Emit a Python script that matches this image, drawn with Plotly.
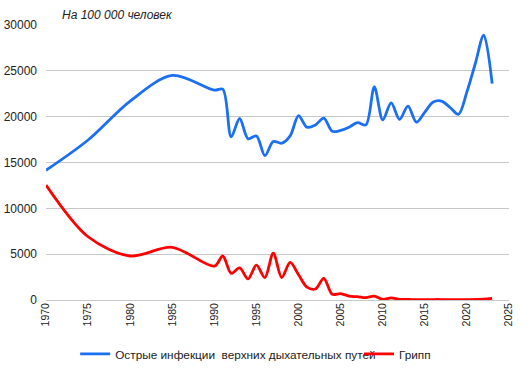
import plotly.graph_objects as go

years = [1970, 1975, 1980, 1985, 1990] + list(range(1991, 2024))

ari = [14150, 17450, 21700, 24500, 22900,
       23000, 17800, 19800, 17600, 17900, 15750, 17300, 17100, 17900, 20100,
       18850, 19100, 19850, 18400, 18500, 18850, 19350, 19100, 23250, 19650,
       21500, 19700, 21150, 19400, 20500, 21600, 21700, 21000, 20250, 22700,
       25800, 28900, 23600]

flu = [12550, 6900, 4800, 5750, 3700,
       4800, 2900, 3500, 2300, 3800, 2450, 5100, 2450, 4100, 2750,
       1400, 1200, 2370, 620, 700, 420, 360, 260, 430, 60,
       230, 60, 70, 30, 30, 50, 50, 30, 30, 40,
       60, 90, 180]

names = ["Острые инфекции\u00a0 верхних дыхательных путей", "Грипп"]
colors = ["#1a6ff2", "#ff0000"]
legends = ["legend", "legend2"]

FONT = "Liberation Sans, Arial, sans-serif"

fig = go.Figure()
for vals, nm, c, lg in zip([ari, flu], names, colors, legends):
    fig.add_trace(go.Scatter(x=years, y=vals, name=nm, mode="lines", legend=lg,
                             line=dict(color=c, width=2.8, shape="spline", smoothing=0.9)))

leg_common = dict(orientation="h", xanchor="left", y=-0.196, yanchor="middle",
                  font=dict(size=11.8, color="#222222", family=FONT),
                  bgcolor="rgba(0,0,0,0)", borderwidth=0)

fig.update_layout(
    width=532, height=377,
    margin=dict(l=46, r=23, t=25, b=77, autoexpand=False),
    paper_bgcolor="white", plot_bgcolor="white",
    font=dict(family=FONT, color="#222222", size=12),
    showlegend=True,
    legend=dict(x=0.063, **leg_common),
    legend2=dict(x=0.676, **leg_common),
    xaxis=dict(range=[1970, 2025], dtick=5, tick0=1970, tickangle=-90, showgrid=False,
               zeroline=False, showline=False, ticks="", automargin=False,
               tickfont=dict(size=10.5, color="#222222")),
    yaxis=dict(range=[0, 30000], dtick=5000, tickformat="d", showgrid=True, gridcolor="#c8c8c8",
               gridwidth=1, zeroline=True, zerolinecolor="#c8c8c8", zerolinewidth=1,
               showline=False, ticks="", automargin=False,
               tickfont=dict(size=12, color="#222222"), ticklabelstandoff=8),
    annotations=[dict(text="На 100 000 человек", xref="paper", yref="paper",
                      x=(60 - 46) / 463, y=1.0, xanchor="left", yanchor="bottom", yshift=1,
                      showarrow=False, font=dict(size=12, color="#222222",
                      family=FONT, style="italic"))],
)

fig.write_html("out.html", config={"displayModeBar": False},
               post_script="document.body.style.margin='0';document.body.style.overflow='hidden';")
